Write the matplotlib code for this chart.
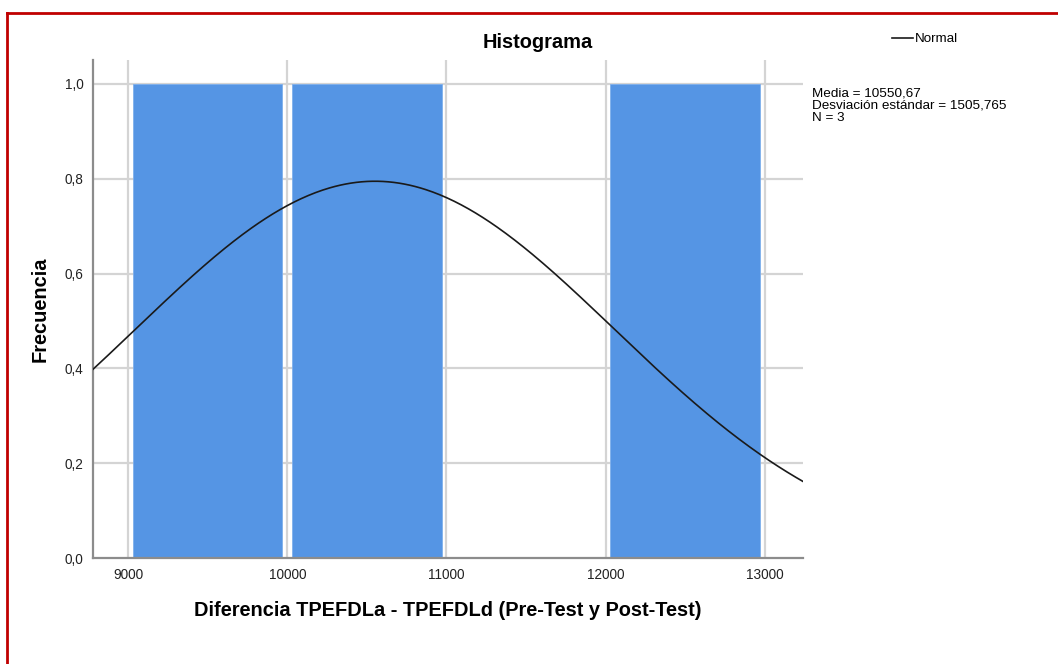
import numpy as np
import matplotlib
matplotlib.use("Agg")
import matplotlib.pyplot as plt
from matplotlib.lines import Line2D

plt.rcParams['font.family'] = ['Liberation Sans', 'DejaVu Sans']

# ---- data ----
bin_edges = [9000, 10000, 11000, 12000, 13000]
counts = [1, 1, 0, 1]
media = 10550.67
desv = 1505.765
n = 3
x_ticks = [9000, 10000, 11000, 12000, 13000]
y_ticks = [0.0, 0.2, 0.4, 0.6, 0.8, 1.0]
y_tick_labels = ["0,0", "0,2", "0,4", "0,6", "0,8", "1,0"]
title = "Histograma"
xlabel = "Diferencia TPEFDLa - TPEFDLd (Pre-Test y Post-Test)"
ylabel = "Frecuencia"
stats_lines = ["Media = 10550,67", "Desviación estándar = 1505,765", "N = 3"]

W, H = 1058, 664
fig = plt.figure(figsize=(W / 100, H / 100), dpi=100)
ax = fig.add_axes([93 / W, 1 - 558 / H, (803 - 93) / W, (558 - 60) / H])

xlim = (8780, 13239)
ax.set_xlim(*xlim)
ax.set_ylim(0, 1.0506)

grid_color = "#d4d4d4"
for t in x_ticks:
    ax.axvline(t, color=grid_color, lw=1.6, zorder=0)
for t in y_ticks[1:]:
    ax.axhline(t, color=grid_color, lw=1.6, zorder=0)

bar_color = "#5595e4"
inset = 30
for left, right, c in zip(bin_edges[:-1], bin_edges[1:], counts):
    if c > 0:
        ax.bar(left + inset, c, width=(right - left) - 2 * inset, align="edge",
               color=bar_color, edgecolor="#7fb0ec", linewidth=0.6, zorder=2)

binw = bin_edges[1] - bin_edges[0]
xs = np.linspace(xlim[0], xlim[1], 400)
ys = n * binw * np.exp(-0.5 * ((xs - media) / desv) ** 2) / (desv * np.sqrt(2 * np.pi))
ax.plot(xs, ys, color="#1a1a1a", lw=1.2, zorder=3)

ax.set_xticks(x_ticks)
ax.set_xticklabels([str(t) for t in x_ticks], fontsize=9.8)
ax.set_yticks(y_ticks)
ax.set_yticklabels(y_tick_labels, fontsize=9.8)
ax.tick_params(length=0, pad=7, colors="#222222")
for s in ["top", "right"]:
    ax.spines[s].set_visible(False)
for s in ["left", "bottom"]:
    ax.spines[s].set_color("#8c8c8c")
    ax.spines[s].set_linewidth(1.6)

fig.text(538 / W, 1 - 42 / H, title, ha="center", va="center", fontsize=14.4, fontweight="bold")
fig.text(448 / W, 1 - 610 / H, xlabel, ha="center", va="center", fontsize=14.4, fontweight="bold")
fig.text(40 / W, 1 - 309 / H, ylabel, ha="center", va="center", rotation=90, fontsize=14.4, fontweight="bold")
for i, line in enumerate(stats_lines):
    fig.text(812 / W, 1 - (96 + 12.7 * i) / H, line, ha="left", va="baseline", fontsize=9.7)

# legend
fig.add_artist(Line2D([892 / W, 913 / W], [1 - 38 / H, 1 - 38 / H], color="#1a1a1a", lw=1.2))
fig.text(915 / W, 1 - 39 / H, "Normal", ha="left", va="center", fontsize=9.6)

# red border
fig.add_artist(Line2D([7 / W, 1.0], [1 - 12.5 / H, 1 - 12.5 / H], color="#c00000", lw=2))
fig.add_artist(Line2D([7 / W, 7 / W], [0, 1 - 12.5 / H], color="#c00000", lw=2))

fig.savefig("out.png", dpi=100)
